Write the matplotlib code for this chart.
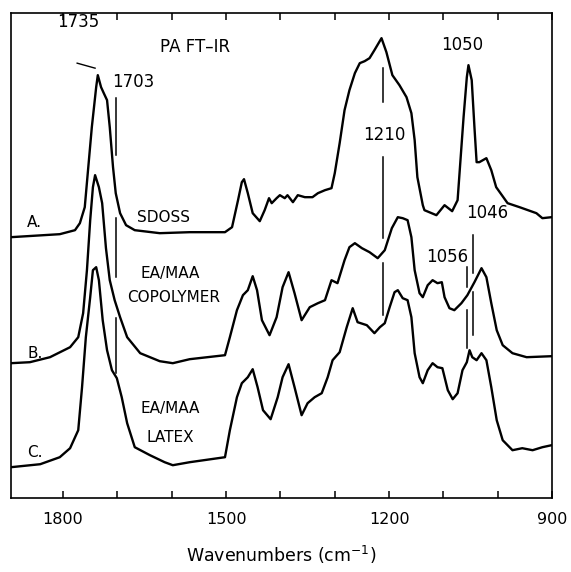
import numpy as np
import matplotlib.pyplot as plt

# spectrum A (SDOSS): wavenumber, absorbance above own baseline
wn_a = [1896, 1806, 1778, 1769, 1760, 1754, 1747, 1739, 1736, 1730, 1725, 1719, 1714, 1708,
        1703, 1695, 1684, 1668, 1622, 1567, 1502, 1489, 1478, 1471, 1467, 1460, 1451, 1438,
        1429, 1421, 1416, 1407, 1401, 1392, 1387, 1377, 1368, 1355, 1341, 1331, 1318, 1306,
        1300, 1291, 1282, 1273, 1263, 1254, 1245, 1236, 1227, 1214, 1205, 1194, 1181, 1168,
        1159, 1153, 1148, 1138, 1135, 1113, 1098, 1084, 1074, 1063, 1057, 1054, 1048, 1043,
        1039, 1034, 1021, 1012, 1003, 982, 960, 929, 918, 901]
ab_a = [0.01, 0.04, 0.08, 0.15, 0.31, 0.68, 1.11, 1.51, 1.63, 1.51, 1.45, 1.38, 1.11, 0.71,
        0.45, 0.25, 0.13, 0.08, 0.05, 0.06, 0.06, 0.11, 0.38, 0.56, 0.59, 0.45, 0.25, 0.17,
        0.28, 0.40, 0.35, 0.40, 0.43, 0.40, 0.43, 0.36, 0.43, 0.41, 0.41, 0.45, 0.48, 0.50,
        0.65, 0.95, 1.28, 1.48, 1.65, 1.75, 1.77, 1.80, 1.88, 2.00, 1.86, 1.63, 1.53, 1.41,
        1.25, 0.98, 0.61, 0.33, 0.28, 0.23, 0.33, 0.27, 0.38, 1.21, 1.61, 1.73, 1.58, 1.11,
        0.76, 0.76, 0.80, 0.68, 0.51, 0.35, 0.31, 0.25, 0.20, 0.21]

# spectrum B (EA/MAA copolymer)
wn_b = [1896, 1861, 1824, 1787, 1772, 1763, 1756, 1750, 1745, 1741, 1734, 1728, 1721, 1714,
        1705, 1695, 1682, 1658, 1622, 1598, 1567, 1502, 1493, 1480, 1469, 1460, 1451, 1443,
        1434, 1420, 1407, 1396, 1385, 1374, 1361, 1346, 1331, 1318, 1306, 1295, 1282, 1273,
        1263, 1250, 1236, 1221, 1208, 1195, 1184, 1175, 1166, 1159, 1153, 1144, 1138, 1129,
        1120, 1111, 1103, 1098, 1089, 1080, 1067, 1056, 1043, 1030, 1021, 1012, 1002, 991,
        973, 947, 901]
ab_b = [0.01, 0.02, 0.07, 0.17, 0.27, 0.51, 0.94, 1.44, 1.77, 1.89, 1.77, 1.61, 1.16, 0.84,
        0.64, 0.47, 0.27, 0.11, 0.03, 0.01, 0.05, 0.09, 0.27, 0.54, 0.69, 0.74, 0.88, 0.74,
        0.44, 0.29, 0.47, 0.77, 0.92, 0.71, 0.44, 0.57, 0.61, 0.64, 0.84, 0.81, 1.04, 1.17,
        1.21, 1.16, 1.12, 1.06, 1.14, 1.36, 1.47, 1.46, 1.44, 1.27, 0.94, 0.71, 0.67, 0.79,
        0.84, 0.81, 0.82, 0.67, 0.56, 0.54, 0.61, 0.69, 0.82, 0.96, 0.87, 0.61, 0.34, 0.19,
        0.11, 0.07, 0.08]

# spectrum C (EA/MAA latex)
wn_c = [1896, 1842, 1806, 1787, 1772, 1765, 1758, 1750, 1745, 1739, 1734, 1727, 1719, 1710,
        1701, 1692, 1682, 1668, 1640, 1613, 1598, 1567, 1502, 1493, 1480, 1471, 1460, 1451,
        1442, 1432, 1418, 1405, 1396, 1385, 1374, 1361, 1350, 1337, 1324, 1313, 1304, 1291,
        1278, 1267, 1258, 1241, 1227, 1217, 1208, 1199, 1190, 1184, 1175, 1166, 1159, 1153,
        1144, 1138, 1129, 1120, 1111, 1102, 1092, 1083, 1074, 1065, 1057, 1052, 1047, 1039,
        1030, 1021, 1012, 1002, 991, 973, 955, 936, 918, 901]
ab_c = [0.01, 0.04, 0.11, 0.20, 0.38, 0.81, 1.31, 1.71, 1.98, 2.01, 1.88, 1.48, 1.18, 0.98,
        0.90, 0.71, 0.45, 0.21, 0.13, 0.06, 0.03, 0.06, 0.11, 0.38, 0.71, 0.85, 0.91, 0.99,
        0.81, 0.58, 0.49, 0.71, 0.91, 1.04, 0.81, 0.53, 0.65, 0.71, 0.75, 0.91, 1.08, 1.16,
        1.41, 1.60, 1.46, 1.43, 1.35, 1.41, 1.45, 1.61, 1.76, 1.78, 1.70, 1.68, 1.51, 1.15,
        0.91, 0.85, 0.98, 1.05, 1.01, 1.00, 0.78, 0.69, 0.75, 0.98, 1.06, 1.18, 1.11, 1.08,
        1.15, 1.08, 0.81, 0.48, 0.28, 0.18, 0.20, 0.18, 0.21, 0.23]

offsets = [2.60, 1.34, 0.30]
series = [(wn_a, ab_a), (wn_b, ab_b), (wn_c, ab_c)]

# marker lines: wavenumber and (y0, y1) segments
mark_wn = [1703, 1211, 1046, 1056]
mark_segs = [[(4.00, 3.43), (2.80, 2.21), (1.80, 1.25)],
             [(4.30, 3.96), (3.41, 2.60), (2.35, 1.83)],
             [(2.63, 2.25), (2.06, 1.63)],
             [(2.31, 2.11), (1.88, 1.50)]]

fig = plt.figure(figsize=(5.71, 5.72), dpi=100)
ax = fig.add_axes([0.019, 0.129, 0.948, 0.848])

for (w, a), off in zip(series, offsets):
    ax.plot(w, np.array(a) + off, color='black', lw=1.7, solid_joinstyle='round')

for w, segs in zip(mark_wn, mark_segs):
    for y0, y1 in segs:
        ax.plot([w, w], [y0, y1], color='black', lw=1.1)

ax.plot([1774, 1741], [4.35, 4.30], color='black', lw=1.0)

fs = 12
ax.text(1772, 4.76, '1735', ha='center', va='center', fontsize=fs)
ax.text(1557, 4.51, 'PA FT\u2013IR', ha='center', va='center', fontsize=fs)
ax.text(1671, 4.16, '1703', ha='center', va='center', fontsize=fs)
ax.text(1065, 4.53, '1050', ha='center', va='center', fontsize=fs)
ax.text(1208, 3.63, '1210', ha='center', va='center', fontsize=fs)
ax.text(1019, 2.85, '1046', ha='center', va='center', fontsize=fs)
ax.text(1094, 2.41, '1056', ha='center', va='center', fontsize=fs)
ax.text(1852, 2.76, 'A.', ha='center', va='center', fontsize=fs - 1)
ax.text(1616, 2.81, 'SDOSS', ha='center', va='center', fontsize=fs - 1)
ax.text(1852, 1.45, 'B.', ha='center', va='center', fontsize=fs - 1)
ax.text(1603, 2.25, 'EA/MAA', ha='center', va='center', fontsize=fs - 1)
ax.text(1596, 2.01, 'COPOLYMER', ha='center', va='center', fontsize=fs - 1)
ax.text(1852, 0.46, 'C.', ha='center', va='center', fontsize=fs - 1)
ax.text(1602, 0.90, 'EA/MAA', ha='center', va='center', fontsize=fs - 1)
ax.text(1603, 0.61, 'LATEX', ha='center', va='center', fontsize=fs - 1)

ax.set_xlim(1896, 900)
ax.set_ylim(0, 4.85)
ax.set_xticks(np.arange(1800, 899, -100))
ax.set_xticklabels(['1800', '', '', '1500', '', '', '1200', '', '', '900'], fontsize=11.5)
ax.set_yticks([])
ax.tick_params(axis='x', direction='in', length=5, width=1.1, top=True, pad=10)
for s in ax.spines.values():
    s.set_linewidth(1.2)
ax.set_xlabel('Wavenumbers (cm$^{-1}$)', fontsize=12.5, labelpad=12)

fig.savefig('out.png', dpi=100)
